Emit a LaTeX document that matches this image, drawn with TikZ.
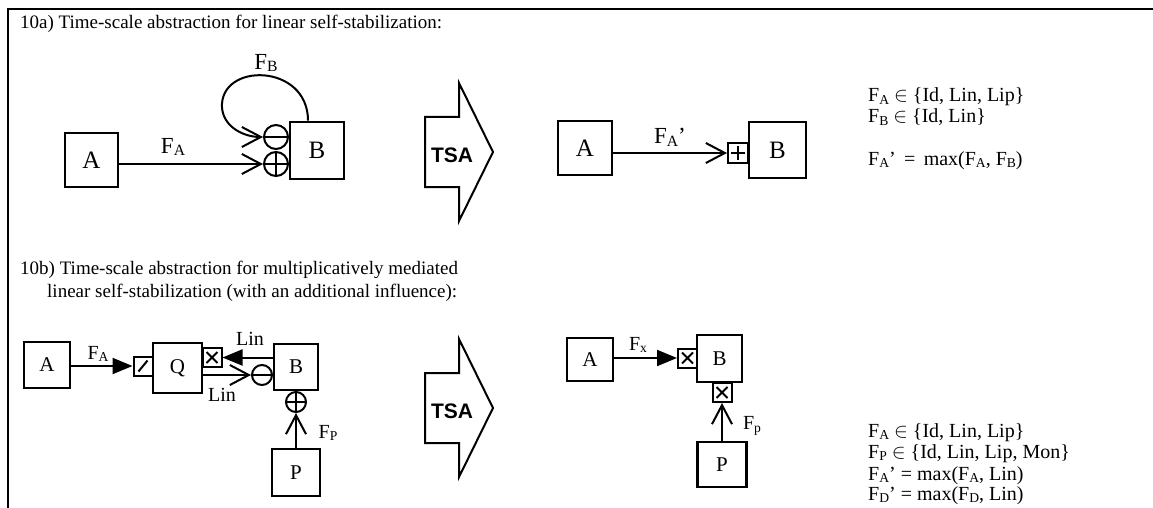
\documentclass[tikz,border=0pt]{standalone}
\usepackage{fontspec}
\setmainfont{Liberation Serif}
\newfontfamily\tsafont{Liberation Sans}
\usetikzlibrary{arrows.meta}
\newcommand\lsub[1]{\raisebox{-0.12em}{\scalebox{0.68}{#1}}}
\begin{document}
\begin{tikzpicture}[x=1pt,y=-1pt,
  box/.style={draw, line width=2.6pt, inner sep=0pt, font=\fontsize{25}{25}\selectfont},
  sbox/.style={draw, line width=2.6pt, inner sep=0pt, font=\fontsize{21}{21}\selectfont},
  conn/.style={line width=2pt},
  barb/.style={-{Straight Barb[length=19pt,width=20pt]}},
  farrow/.style={-{Triangle[length=20pt,width=16pt]}},
  lbl/.style={inner sep=0pt, font=\fontsize{23}{23}\selectfont},
  slbl/.style={inner sep=0pt, font=\fontsize{20}{20}\selectfont},
  txt/.style={inner sep=0pt, anchor=base west, font=\fontsize{19}{22}\selectfont},
  rtxt/.style={inner sep=0pt, anchor=base west, font=\fontsize{20}{22}\selectfont},
  tsa/.style={inner sep=0pt, font=\tsafont\bfseries\fontsize{21}{21}\selectfont},
  pcirc/.style={circle, draw, line width=2pt, inner sep=0pt, minimum size=#1,
    path picture={\draw[line width=2pt] (path picture bounding box.north) -- (path picture bounding box.south)
      (path picture bounding box.west) -- (path picture bounding box.east);}},
  mcirc/.style={circle, draw, line width=2pt, inner sep=0pt, minimum size=#1,
    path picture={\draw[line width=2pt] (path picture bounding box.west) -- (path picture bounding box.east);}},
  psq/.style={draw, line width=2pt, inner sep=0pt, minimum width=#1, minimum height=#1,
    path picture={\draw[line width=2pt] ([yshift=-3pt]path picture bounding box.north) -- ([yshift=3pt]path picture bounding box.south)
      ([xshift=3pt]path picture bounding box.west) -- ([xshift=-3pt]path picture bounding box.east);}},
  xsq/.style={draw, line width=2pt, inner sep=0pt, minimum width=#1, minimum height=#1,
    path picture={\draw[line width=2pt] ([shift={(4pt,-4pt)}]path picture bounding box.north west) -- ([shift={(-4pt,4pt)}]path picture bounding box.south east)
      ([shift={(-4pt,-4pt)}]path picture bounding box.north east) -- ([shift={(4pt,4pt)}]path picture bounding box.south west);}},
  slsq/.style={draw, line width=2pt, inner sep=0pt, minimum width=#1, minimum height=#1,
    path picture={\draw[line width=2pt] ([shift={(5pt,4pt)}]path picture bounding box.south west) -- ([shift={(-5pt,-4pt)}]path picture bounding box.north east);}}
]
\useasboundingbox (0,0) rectangle (1153,508);
\draw[line width=1.8pt] (8,508) -- (8,9) -- (1153,9);

% titles
\node[txt] (ta) at (20,29) {10a) Time-scale abstraction for linear self-stabilization:};
\node[txt] (tb1) at (20,274) {10b) Time-scale abstraction for multiplicatively mediated};
\node[txt] (tb2) at (47,297) {linear self-stabilization (with an additional influence):};

% ---- 10a left
\node[box, minimum width=53, minimum height=54] (A1) at (91.5,160) {A};
\node[box, minimum width=54, minimum height=57] (B1) at (317,150.5) {B};
\node[pcirc=24] (P1) at (276,164) {};
\node[mcirc=24] (M1) at (276,137) {};
\draw[conn, barb] (A1.east |- P1.west) -- (P1.west);
\draw[conn, barb] ([xshift=-9pt]B1.north) .. controls +(0,-58) and (219,62) .. (222,108) .. controls (224,128) and (245,137) .. (M1.west);
\node[lbl] (FA1) at (173,147) {F\lsub{A}};
\node[lbl] (FB1) at (266,63) {F\lsub{B}};

% TSA a
\draw[line width=2pt] (425,117) -- (459,117) -- (459,83) -- (493,152) -- (459,221) -- (459,187) -- (425,187) -- cycle;
\node[tsa] (tsa1) at (452,155) {TSA};

% ---- 10a right
\node[box, minimum width=54, minimum height=54] (A2) at (585,148) {A};
\node[box, minimum width=57, minimum height=56] (B2) at (777.5,150) {B};
\node[psq=20] (S2) at (738,153) {};
\draw[conn, barb] (A2.east |- S2.west) -- (S2.west);
\node[lbl] (FA2) at (670,137) {F\lsub{A}'};

% text a
\node[rtxt] (ra1) at (868,102) {F\lsub{A} $\in$ \{Id, Lin, Lip\}};
\node[rtxt] (ra2) at (868,123) {F\lsub{B} $\in$ \{Id, Lin\}};
\node[rtxt] (ra3) at (868,165) {F\lsub{A}' \,=\, max(F\lsub{A}, F\lsub{B})};

% ---- 10b left
\node[sbox, minimum width=46, minimum height=46] (A3) at (47,365) {A};
\node[slsq=19] (Sl3) at (143,366) {};
\node[sbox, minimum width=49, minimum height=50] (Q3) at (177.5,368) {Q};
\node[xsq=19] (X3) at (212,357.5) {};
\node[sbox, minimum width=44, minimum height=46] (B3) at (296,367) {B};
\node[mcirc=20] (M3) at (262,375) {};
\node[pcirc=20] (P3) at (296,402) {};
\node[sbox, minimum width=48, minimum height=47] (Pb3) at (296,472.5) {P};
\draw[conn, farrow] (A3.east |- Sl3.west) -- (Sl3.west);
\draw[conn, farrow] (B3.west |- X3.east) -- (X3.east);
\draw[conn, barb] (Q3.east |- M3.west) -- (M3.west);
\draw[conn, barb] (Pb3.north) -- (P3.south);
\node[slbl] (FA3) at (98,354) {F\lsub{A}};
\node[slbl] (L3a) at (250,339) {Lin};
\node[slbl] (L3b) at (222,395) {Lin};
\node[slbl] (FP3) at (328,433) {F\lsub{P}};

% TSA b
\draw[line width=2pt] (425,373) -- (459,373) -- (459,339) -- (493,408) -- (459,477) -- (459,443) -- (425,443) -- cycle;
\node[tsa] (tsa2) at (452,411) {TSA};

% ---- 10b right
\node[sbox, minimum width=46, minimum height=43] (A4) at (590,359.5) {A};
\node[xsq=19] (X4) at (687.5,358) {};
\node[sbox, minimum width=45, minimum height=47] (B4) at (719.5,358.5) {B};
\node[xsq=19] (X5) at (722,392.5) {};
\node[sbox, minimum width=49, minimum height=45] (Pb4) at (722,464.5) {P};
\draw[conn, farrow] (A4.east |- X4.west) -- (X4.west);
\draw[conn, barb] (Pb4.north) -- (X5.south);
\node[slbl] (FX4) at (638,345) {F\lsub{x}};
\node[slbl] (FP4) at (752,426) {F\lsub{p}};

% text b
\node[rtxt] (rb1) at (868,437) {F\lsub{A} $\in$ \{Id, Lin, Lip\}};
\node[rtxt] (rb2) at (868,458) {F\lsub{P} $\in$ \{Id, Lin, Lip, Mon\}};
\node[rtxt] (rb3) at (868,480) {F\lsub{A}' = max(F\lsub{A}, Lin)};
\node[rtxt] (rb4) at (868,500) {F\lsub{D}' = max(F\lsub{D}, Lin)};
\end{tikzpicture}
\end{document}
